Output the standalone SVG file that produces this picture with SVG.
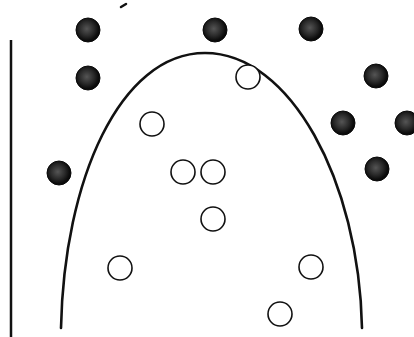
<svg xmlns="http://www.w3.org/2000/svg" width="414" height="337" viewBox="0 0 414 337">
<style>
.filled{fill:url(#speck);stroke:#0a0a0a;stroke-width:1}
.open{fill:#fff;stroke:#111;stroke-width:1.6}
.curve{fill:none;stroke:#111;stroke-width:2.6;stroke-linecap:round}
</style>
<defs>
<radialGradient id="speck" cx="0.45" cy="0.45" r="0.6">
<stop offset="0" stop-color="#555"/>
<stop offset="0.5" stop-color="#2a2a2a"/>
<stop offset="0.8" stop-color="#0d0d0d"/>
<stop offset="1" stop-color="#050505"/>
</radialGradient>
</defs>
<rect width="414" height="337" fill="#fff"/>
<g id="axis">
<line x1="11" y1="40" x2="11" y2="337" stroke="#111" stroke-width="2.5"/>
<line x1="121" y1="7" x2="126" y2="4" stroke="#111" stroke-width="2.5" stroke-linecap="round"/>
</g>
<g id="boundary">
<path class="curve" d="M61,328 C64,180 120,53 205,53 C290,53 359,180 362,328"/>
</g>
<g id="filled-points">
<circle class="filled" cx="88" cy="30" r="12"/>
<circle class="filled" cx="88" cy="78" r="12"/>
<circle class="filled" cx="215" cy="30" r="12"/>
<circle class="filled" cx="311" cy="29" r="12"/>
<circle class="filled" cx="376" cy="76" r="12"/>
<circle class="filled" cx="343" cy="123" r="12"/>
<circle class="filled" cx="407" cy="123" r="12"/>
<circle class="filled" cx="377" cy="169" r="12"/>
<circle class="filled" cx="59" cy="173" r="12"/>
</g>
<g id="open-points">
<circle class="open" cx="248" cy="77" r="12"/>
<circle class="open" cx="152" cy="124" r="12"/>
<circle class="open" cx="183" cy="172" r="12"/>
<circle class="open" cx="213" cy="172" r="12"/>
<circle class="open" cx="213" cy="219" r="12"/>
<circle class="open" cx="120" cy="268" r="12"/>
<circle class="open" cx="311" cy="267" r="12"/>
<circle class="open" cx="280" cy="314" r="12"/>
</g>
</svg>
